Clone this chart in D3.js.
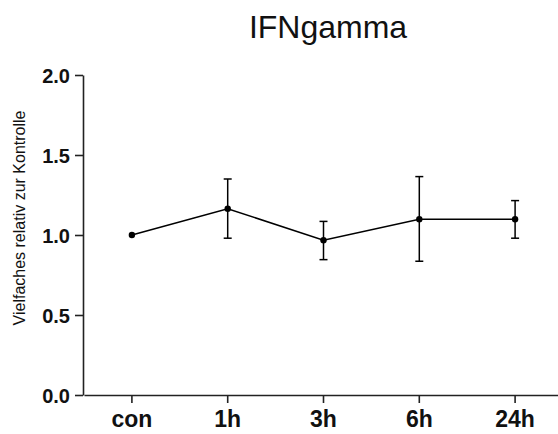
<!DOCTYPE html>
<html>
<head>
<meta charset="utf-8">
<script src="https://cdn.jsdelivr.net/npm/d3@7"></script>
<style>
  body { margin: 0; background: #fff; }
  text { font-family: Arial, "Liberation Sans", sans-serif; fill: #111; }
</style>
</head>
<body>
<div id="chart"></div>
<script>
// data
const categories = ["con", "1h", "3h", "6h", "24h"];
const means = [1.0, 1.164, 0.967, 1.098, 1.098];
const upper = [1.0, 1.35, 1.085, 1.365, 1.215];
const lower = [1.0, 0.98, 0.846, 0.836, 0.98];
const yTicks = [0, 0.5, 1.0, 1.5, 2.0];

const svgWidth = 558;
const svgHeight = 434;

const svg = d3.select("#chart")
    .append("svg")
    .attr("width", svgWidth)
    .attr("height", svgHeight);

const xScale = d3.scaleBand()
    .domain(categories)
    .range([84, 563])
    .padding(0);

const yScale = d3.scaleLinear()
    .domain([0, 2])
    .range([395, 75]);

const cx = d => xScale(d) + xScale.bandwidth() / 2;

// y axis
const yAxis = svg.append("g")
    .attr("transform", "translate(83, 0)")
    .call(d3.axisLeft(yScale).tickValues(yTicks).tickFormat(d3.format(".1f")).tickSize(8).tickSizeOuter(0));

yAxis.selectAll("text")
    .attr("x", -13)
    .attr("dy", "0.36em")
    .style("font-size", "20px")
    .style("font-weight", "bold")
    .style("font-family", "Arial, 'Liberation Sans', sans-serif");

// x axis
const xAxis = svg.append("g")
    .attr("transform", "translate(0, 395)")
    .call(d3.axisBottom(xScale).tickSize(8).tickSizeOuter(0));

xAxis.selectAll("text")
    .attr("y", 16)
    .attr("dy", "0.71em")
    .style("font-size", "23px")
    .style("font-weight", "bold")
    .style("font-family", "Arial, 'Liberation Sans', sans-serif");

svg.selectAll(".domain, .tick line")
    .attr("stroke", "#222")
    .attr("stroke-width", 1.6);

// axis title
svg.append("text")
    .attr("transform", "translate(25, 218) rotate(-90)")
    .style("text-anchor", "middle")
    .style("font-size", "16px")
    .text("Vielfaches relativ zur Kontrolle");

// chart title
svg.append("text")
    .attr("x", 328)
    .attr("y", 38)
    .style("text-anchor", "middle")
    .style("font-size", "32px")
    .text("IFNgamma");

// connecting line
const line = d3.line()
    .x((d, i) => cx(categories[i]))
    .y(d => yScale(d));

svg.append("path")
    .datum(means)
    .attr("d", line)
    .attr("fill", "none")
    .attr("stroke", "#000")
    .attr("stroke-width", 1.5);

// error bars
const errGroup = svg.selectAll(".err")
    .data(categories.map((c, i) => ({ c, hi: upper[i], lo: lower[i] })).filter(d => d.hi !== d.lo))
    .enter().append("g")
    .attr("class", "err");

errGroup.append("line")
    .attr("x1", d => cx(d.c))
    .attr("x2", d => cx(d.c))
    .attr("y1", d => yScale(d.hi))
    .attr("y2", d => yScale(d.lo))
    .attr("stroke", "#000")
    .attr("stroke-width", 1.5);

errGroup.append("line")
    .attr("x1", d => cx(d.c) - 4)
    .attr("x2", d => cx(d.c) + 4)
    .attr("y1", d => yScale(d.hi))
    .attr("y2", d => yScale(d.hi))
    .attr("stroke", "#000")
    .attr("stroke-width", 1.5);

errGroup.append("line")
    .attr("x1", d => cx(d.c) - 4)
    .attr("x2", d => cx(d.c) + 4)
    .attr("y1", d => yScale(d.lo))
    .attr("y2", d => yScale(d.lo))
    .attr("stroke", "#000")
    .attr("stroke-width", 1.5);

// points
svg.selectAll(".pt")
    .data(means)
    .enter().append("circle")
    .attr("class", "pt")
    .attr("cx", (d, i) => cx(categories[i]))
    .attr("cy", d => yScale(d))
    .attr("r", 3.2)
    .attr("fill", "#000");
</script>
</body>
</html>
